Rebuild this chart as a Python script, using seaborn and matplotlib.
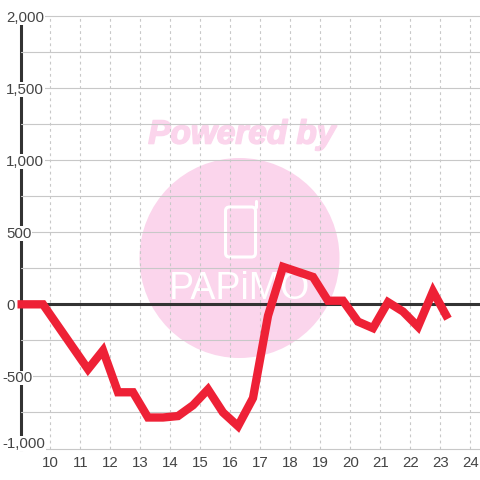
import matplotlib.pyplot as plt
import matplotlib.patches as ptc
import matplotlib.lines as mlines
import matplotlib.patheffects as pe
import matplotlib.transforms as mtrans
from matplotlib import font_manager
import seaborn as sns
import pandas as pd

hours = [8.9, 9.75, 10.25, 10.75, 11.25, 11.75, 12.25, 12.75, 13.25, 13.75, 14.25, 14.75,
         15.25, 15.75, 16.25, 16.75, 17.25, 17.75, 18.25, 18.75, 19.25, 19.75, 20.25,
         20.75, 21.25, 21.75, 22.25, 22.75, 23.25]
values = [0, 0, -150, -300, -450, -320, -610, -610, -785, -785, -775, -700,
          -590, -750, -845, -650, -80, 260, 225, 190, 25, 25, -120,
          -165, 15, -50, -155, 90, -100]
x_ticks = list(range(10, 25))
y_ticks = [-1000, -500, 0, 500, 1000, 1500, 2000]
y_minor = [-750, -250, 250, 750, 1250, 1750]
y_labels = ["-1,000", "-500", "0", "500", "1,000", "1,500", "2,000"]

W = 480
PINK = "#fbd5ec"
TEXT = "#444444"

sns.set_theme(style="white")
plt.rcParams["font.family"] = ["Liberation Sans", "DejaVu Sans"]
installed = {f.name for f in font_manager.fontManager.ttflist}
print("narrow" , "Liberation Sans Narrow" in installed)

fig = plt.figure(figsize=(4.8, 4.8), dpi=100, facecolor="white")
ax = fig.add_axes([20.5 / W, (W - 448.5) / W, (W - 20.5) / W, 432.5 / W])
ax.patch.set_alpha(0)
ax.set_axisbelow(True)

# watermark sits behind the axes
fig.patches.append(ptc.Circle((239.5, W - 258), 100, transform=None, fc=PINK, ec="none", zorder=-2))
fig.patches.append(ptc.FancyBboxPatch((225.5, W - 257), 30, 50, boxstyle="round,pad=0,rounding_size=4",
                                      transform=None, fc="none", ec="white", lw=2.2, zorder=-1))
fig.lines.append(mlines.Line2D([255.5, 255.5], [W - 207, W - 201], transform=None, color="white",
                               lw=2.2, solid_capstyle="round", zorder=-1))
fig.text(242 / W, 1 - 135 / W, "Powered by", color=PINK, fontsize=24, fontweight="bold",
         fontstyle="italic", ha="center", va="center", zorder=-1,
         path_effects=[pe.withStroke(linewidth=1.2, foreground=PINK)])
papimo_font = "Liberation Sans Narrow" if "Liberation Sans Narrow" in installed else "Liberation Sans"
papimo_size = 32 if papimo_font == "Liberation Sans Narrow" else 27
fig.text(239.5 / W, 1 - 289 / W, "PAPiMO", color="white", fontsize=papimo_size, family=papimo_font,
         ha="center", va="center", zorder=-1)

df = pd.DataFrame({"hour": hours, "value": values})
ax.axhline(0, color="#333333", lw=2.2, zorder=1)
line = sns.lineplot(data=df, x="hour", y="value", sort=False, errorbar=None, color="#ee2136",
                    lw=6.0, ax=ax).lines[-1]
line.set_clip_on(False)
line.set_solid_joinstyle("miter")
line.set_solid_capstyle("butt")

ax.set_xlim(9, 24.317)
ax.set_ylim(-1000, 2000)
ax.set_xlabel("")
ax.set_ylabel("")
ax.set_xticks(x_ticks)
ax.set_yticks(y_ticks)
ax.set_yticks(y_minor, minor=True)
ax.set_yticklabels(y_labels)

ax.grid(True, axis="y", which="both", color="#c8c8c8", lw=0.8, ls="-")
ax.grid(True, axis="x", which="major", color="#c8c8c8", lw=0.8, ls=(0, (2.5, 3)))
for gl in ax.get_ygridlines():
    gl.set_clip_on(False)

ax.tick_params(axis="both", which="both", length=0, labelsize=10.8, labelcolor=TEXT)
ax.tick_params(axis="x", pad=5.2)
ax.tick_params(axis="y", pad=10.2)

for name in ["top", "right", "bottom"]:
    ax.spines[name].set_visible(False)
ax.spines["left"].set_color("#333333")
ax.spines["left"].set_linewidth(2.2)
ax.spines["left"].set_zorder(0.4)

for lab, val in zip(ax.get_yticklabels(), y_ticks):
    lab.set_ha("left")
    lab.set_bbox(dict(fc="white", ec="none", pad=0.2))
    if val < 0:
        # negative labels start further left, the last one also sits higher
        dy = 6.5 if val == -1000 else 0
        lab.set_transform(lab.get_transform() + mtrans.ScaledTranslation(-4 / 100, dy / 100, fig.dpi_scale_trans))

plt.savefig("out.png", dpi=100)
